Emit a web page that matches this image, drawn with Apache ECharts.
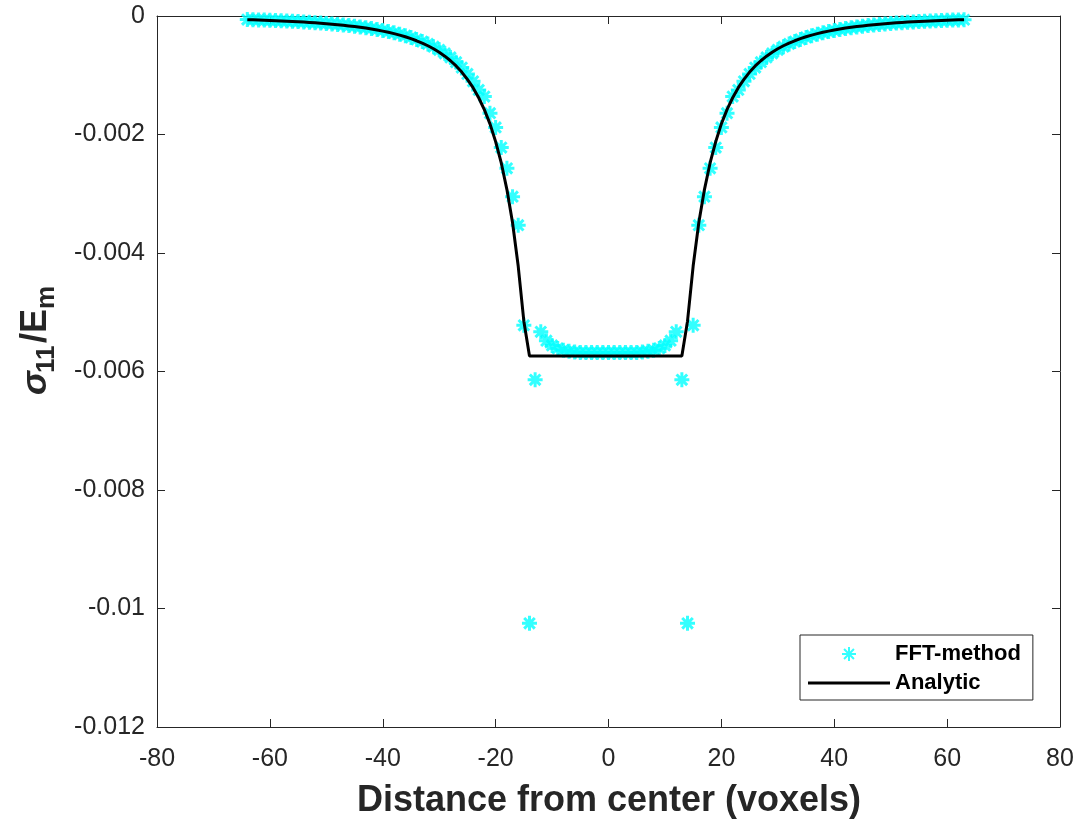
<!DOCTYPE html>
<html><head><meta charset="utf-8">
<script src="https://cdn.jsdelivr.net/npm/echarts@6/dist/echarts.min.js"></script>
<style>html,body{margin:0;padding:0;background:#fff}#c{width:1081px;height:824px}</style>
</head><body><div id="c"></div>
<script>
const xPositions = [-64,-63,-62,-61,-60,-59,-58,-57,-56,-55,-54,-53,-52,-51,-50,-49,-48,-47,-46,-45,-44,-43,-42,-41,-40,-39,-38,-37,-36,-35,-34,-33,-32,-31,-30,-29,-28,-27,-26,-25,-24,-23,-22,-21,-20,-19,-18,-17,-16,-15,-14,-13,-12,-11,-10,-9,-8,-7,-6,-5,-4,-3,-2,-1,0,1,2,3,4,5,6,7,8,9,10,11,12,13,14,15,16,17,18,19,20,21,22,23,24,25,26,27,28,29,30,31,32,33,34,35,36,37,38,39,40,41,42,43,44,45,46,47,48,49,50,51,52,53,54,55,56,57,58,59,60,61,62,63];

const fftValues = [
-0.0000604,-0.0000633,-0.0000664,-0.0000696,-0.0000732,-0.0000769,-0.0000809,-0.0000852,-0.0000898,-0.0000948,
-0.000100,-0.000106,-0.000112,-0.000119,-0.000126,-0.000134,-0.000142,-0.000151,-0.000161,-0.000172,
-0.000184,-0.000197,-0.000211,-0.000227,-0.000244,-0.000263,-0.000284,-0.000307,-0.000333,-0.000362,
-0.000395,-0.000431,-0.000472,-0.000518,-0.000571,-0.000631,-0.000700,-0.000779,-0.000870,-0.000977,
-0.001102,-0.001248,-0.00136,-0.00164,-0.00188,-0.00222,-0.00257,-0.00305,-0.00353,-0.00522,
-0.01025,-0.00614,-0.00533,-0.00548,-0.00556,-0.00561,-0.00564,-0.00566,-0.00567,-0.00568,
-0.00568,-0.00568,-0.00568,-0.00568,-0.00568,-0.00568,-0.00568,-0.00568,-0.00568,-0.00568,
-0.00567,-0.00566,-0.00564,-0.00561,-0.00556,-0.00548,-0.00533,-0.00614,-0.01025,-0.00522,
-0.00353,-0.00305,-0.00257,-0.00222,-0.00188,-0.00164,-0.00136,-0.001248,-0.001102,-0.000977,
-0.000870,-0.000779,-0.000700,-0.000631,-0.000571,-0.000518,-0.000472,-0.000431,-0.000395,-0.000362,
-0.000333,-0.000307,-0.000284,-0.000263,-0.000244,-0.000227,-0.000211,-0.000197,-0.000184,-0.000172,
-0.000161,-0.000151,-0.000142,-0.000134,-0.000126,-0.000119,-0.000112,-0.000106,-0.000100,-0.0000948,
-0.0000898,-0.0000852,-0.0000809,-0.0000769,-0.0000732,-0.0000696,-0.0000664,-0.0000633];

const analyticValues = [
-0.0000613,-0.0000643,-0.0000674,-0.0000709,-0.0000745,-0.0000784,-0.0000826,-0.0000870,-0.0000919,-0.0000970,
-0.000103,-0.000109,-0.000115,-0.000122,-0.000130,-0.000138,-0.000146,-0.000156,-0.000167,-0.000178,
-0.000191,-0.000204,-0.000220,-0.000236,-0.000255,-0.000275,-0.000298,-0.000323,-0.000351,-0.000383,
-0.000418,-0.000457,-0.000502,-0.000553,-0.000611,-0.000678,-0.000755,-0.000843,-0.000947,-0.00107,
-0.00121,-0.00138,-0.00158,-0.00182,-0.00212,-0.00248,-0.00293,-0.00349,-0.00422,-0.00515,
-0.00574,-0.00574,-0.00574,-0.00574,-0.00574,-0.00574,-0.00574,-0.00574,-0.00574,-0.00574,
-0.00574,-0.00574,-0.00574,-0.00574,-0.00574,-0.00574,-0.00574,-0.00574,-0.00574,-0.00574,
-0.00574,-0.00574,-0.00574,-0.00574,-0.00574,-0.00574,-0.00574,-0.00574,
-0.00515,-0.00422,-0.00349,-0.00293,-0.00248,-0.00212,-0.00182,-0.00158,-0.00138,-0.00121,
-0.00107,-0.000947,-0.000843,-0.000755,-0.000678,-0.000611,-0.000553,-0.000502,-0.000457,-0.000418,
-0.000383,-0.000351,-0.000323,-0.000298,-0.000275,-0.000255,-0.000236,-0.000220,-0.000204,-0.000191,
-0.000178,-0.000167,-0.000156,-0.000146,-0.000138,-0.000130,-0.000122,-0.000115,-0.000109,-0.000103,
-0.0000970,-0.0000919,-0.0000870,-0.0000826,-0.0000784,-0.0000745,-0.0000709,-0.0000674,-0.0000643,-0.0000613];

const seriesNames = ['FFT-method', 'Analytic'];
const xAxisRange = [-80, 80, 20];
const yAxisRange = [-0.012, 0, 0.002];
const xTitle = 'Distance from center (voxels)';

const FONT = '"Liberation Sans", Arial, Helvetica, sans-serif';
const AX = '#262626';
const fftData = xPositions.map((x, i) => [x, fftValues[i]]);
const anaData = xPositions.map((x, i) => [x, analyticValues[i]]);

const star = 'path://M0,-10L0,10M-10,0L10,0M-7.07,-7.07L7.07,7.07M-7.07,7.07L7.07,-7.07';
const lineIcon = 'path://M0,0L82,0L82,3L0,3Z';

function xAx(pos, labels) {
  return {
    type: 'value', position: pos, min: xAxisRange[0], max: xAxisRange[1], interval: xAxisRange[2],
    axisLine: {show: true, onZero: false, lineStyle: {color: AX, width: 1}},
    axisTick: {show: true, inside: true, length: 8, lineStyle: {color: AX, width: 1}},
    axisLabel: {show: labels, fontSize: 25, color: AX, fontFamily: FONT, margin: 20},
    splitLine: {show: false}
  };
}
function yAx(pos, labels) {
  return {
    type: 'value', position: pos, min: yAxisRange[0], max: yAxisRange[1], interval: yAxisRange[2],
    axisLine: {show: true, onZero: false, lineStyle: {color: AX, width: 1}},
    axisTick: {show: true, inside: true, length: 8, lineStyle: {color: AX, width: 1}},
    axisLabel: {show: labels, fontSize: 25, color: AX, fontFamily: FONT, margin: 12,
      formatter: v => (Math.abs(v) < 1e-12 ? '0' : String(parseFloat(v.toFixed(3))))},
    splitLine: {show: false}
  };
}

const chart = echarts.init(document.getElementById('c'), null, {renderer: 'canvas'});
chart.setOption({
  animation: false,
  backgroundColor: '#fff',
  grid: {left: 157, right: 21, top: 16, bottom: 97, containLabel: false},
  xAxis: [xAx('bottom', true), xAx('top', false)],
  yAxis: [yAx('left', true), yAx('right', false)],
  legend: {
    orient: 'vertical', left: 800, top: 635,
    padding: [8, 12, 6, 8], itemGap: 7, itemWidth: 82, itemHeight: 14,
    borderColor: AX, borderWidth: 1, backgroundColor: '#fff',
    textStyle: {fontFamily: FONT, fontWeight: 'bold', fontSize: 22, color: '#000'},
    data: [
      {name: seriesNames[0]},
      {name: seriesNames[1], icon: lineIcon, itemStyle: {color: '#000', borderWidth: 0}}
    ]
  },
  series: [
    {
      name: seriesNames[0], type: 'scatter', data: fftData,
      symbol: star, symbolSize: 15, symbolKeepAspect: true,
      itemStyle: {color: '#00FFFF', borderColor: '#00FFFF', borderWidth: 3},
      z: 2
    },
    {
      name: seriesNames[1], type: 'line', data: anaData,
      symbol: 'none', showSymbol: false, symbolKeepAspect: true,
      lineStyle: {color: '#000', width: 3},
      itemStyle: {color: '#000'},
      z: 3
    }
  ],
  graphic: [
    {
      type: 'text', x: 609, y: 801,
      style: {text: xTitle, font: 'bold 36px ' + FONT, fill: AX, align: 'center', verticalAlign: 'middle'}
    },
    {
      type: 'group', x: 36, y: 395, rotation: Math.PI / 2,
      children: [
        {type: 'text', x: 0, y: 0, style: {text: 'σ', font: 'italic bold 36px ' + FONT, fill: AX, align: 'left', verticalAlign: 'middle'}},
        {type: 'text', x: 22, y: 11, style: {text: '11', font: 'bold 26px ' + FONT, fill: AX, align: 'left', verticalAlign: 'middle'}},
        {type: 'text', x: 52, y: 0, style: {text: '/E', font: 'bold 36px ' + FONT, fill: AX, align: 'left', verticalAlign: 'middle'}},
        {type: 'text', x: 86, y: 11, style: {text: 'm', font: 'bold 26px ' + FONT, fill: AX, align: 'left', verticalAlign: 'middle'}}
      ]
    }
  ]
});
</script></body></html>
